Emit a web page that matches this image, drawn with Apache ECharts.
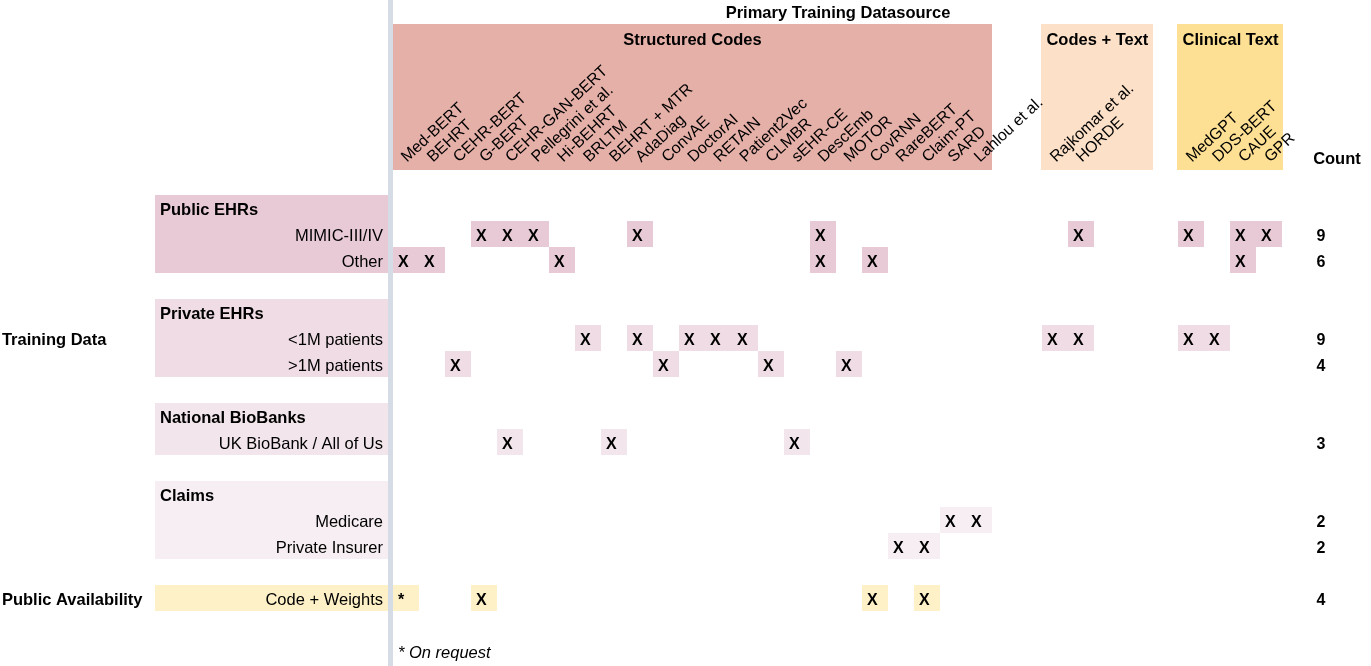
<!DOCTYPE html>
<html><head><meta charset="utf-8">
<script src="https://cdn.jsdelivr.net/npm/echarts@6/dist/echarts.min.js"></script>
<style>html,body{margin:0;padding:0;background:#fff}#c{width:1371px;height:666px}</style>
</head><body><div id="c"></div>
<script>
// ---------------- data ----------------
const chartTitle = 'Primary Training Datasource';
const sourceGroups = ['Structured Codes', 'Codes + Text', 'Clinical Text'];
const structuredModels = ['Med-BERT','BEHRT','CEHR-BERT','G-BERT','CEHR-GAN-BERT','Pellegrini et al.','Hi-BEHRT','BRLTM','BEHRT + MTR','AdaDiag','ConvAE','DoctorAI','RETAIN','Patient2Vec','CLMBR','sEHR-CE','DescEmb','MOTOR','CovRNN','RareBERT','Claim-PT','SARD','Lahlou et al.'];
const codesTextModels = ['Rajkomar et al.','HORDE'];
const clinicalTextModels = ['MedGPT','DDS-BERT','CAUE','GPR'];

const sectionTitles = ['Public EHRs','Private EHRs','National BioBanks','Claims',''];
const publicEhrRows = ['MIMIC-III/IV','Other'];
const privateEhrRows = ['<1M patients','>1M patients'];
const biobankRows = ['UK BioBank / All of Us'];
const claimsRows = ['Medicare','Private Insurer'];
const availabilityRows = ['Code + Weights'];
const categoryLabels = ['Training Data','Public Availability'];

const mimicModels = ['G-BERT','CEHR-GAN-BERT','Pellegrini et al.','AdaDiag','DescEmb','HORDE','MedGPT','CAUE','GPR'];
const otherPublicModels = ['Med-BERT','BEHRT','Hi-BEHRT','DescEmb','CovRNN','CAUE'];
const under1MModels = ['BRLTM','AdaDiag','DoctorAI','RETAIN','Patient2Vec','Rajkomar et al.','HORDE','MedGPT','DDS-BERT'];
const over1MModels = ['CEHR-BERT','ConvAE','CLMBR','MOTOR'];
const biobankModels = ['CEHR-GAN-BERT','BEHRT + MTR','sEHR-CE'];
const medicareModels = ['SARD','Lahlou et al.'];
const privateInsurerModels = ['RareBERT','Claim-PT'];
const codeWeightsModels = ['Med-BERT','G-BERT','CovRNN','Claim-PT'];
const onRequestModels = ['Med-BERT'];
const footnote = '* On request';
const countHeader = 'Count';

// ---------------- layout / style ----------------
const FONT = '"Liberation Sans", Arial, Helvetica, sans-serif';
const FS = '16.5px ';
const UNIT = 26.04;                 // px per column
const groupStart = [0, 24.92, 30.15];
const groupBoxWidth = [23, 4.26, 4.03];
const groupColors = ['#e5b0a8', '#fce1c8', '#fde093'];
const sectionColors = ['#e8cad6', '#efdce4', '#f2e5eb', '#f6eef2', '#fef1c8'];
const BOX_TOP = -6.58, BOX_BOTTOM = -0.98, GROUP_TITLE_Y = -5.96, TITLE_Y = -7.0;
const COL_LABEL_Y = -1.36, COUNT_HEAD_Y = -1.36, FOOT_Y = 17.62;
const COUNT_X = 35.64, COUNT_HEAD_X = 36.25;
const LABEL_BOX_LEFT = -9.14, CAT_LABEL_X = -15.02;
const categoryRows = [5, 15];
const ROT = 43 * Math.PI / 180;
const TXT_DY = 2.5;

const modelGroups = [structuredModels, codesTextModels, clinicalTextModels];
const colOf = {};
modelGroups.forEach((arr, g) => arr.forEach((m, i) => { colOf[m] = { x: groupStart[g] + i, g }; }));
const allModels = [].concat(structuredModels, codesTextModels, clinicalTextModels);

const sections = [
  { rows: publicEhrRows, marks: [mimicModels, otherPublicModels] },
  { rows: privateEhrRows, marks: [under1MModels, over1MModels] },
  { rows: biobankRows, marks: [biobankModels] },
  { rows: claimsRows, marks: [medicareModels, privateInsurerModels] },
  { rows: availabilityRows, marks: [codeWeightsModels] }
];

const sectionBoxes = [], rowLabelItems = [], cellItems = [], countItems = [];
let r = 0;
sections.forEach((s, si) => {
  const start = r;
  if (sectionTitles[si]) { rowLabelItems.push({ row: r, text: sectionTitles[si], bold: true }); r++; }
  s.rows.forEach((name, k) => {
    rowLabelItems.push({ row: r, text: name, bold: false });
    s.marks[k].forEach(m => {
      cellItems.push({ x: colOf[m].x, row: r, sec: si, text: onRequestModels.includes(m) && si === 4 ? '*' : 'X' });
    });
    countItems.push({ row: r, text: String(s.marks[k].length) });
    r++;
  });
  sectionBoxes.push({ start, end: r, sec: si });
  r++;
});
const totalCols = 35, totalRows = 16;

function txt(x, y, text, opt) {
  return { type: 'text', x, y, rotation: opt.rotation || 0, style: { text, fill: '#000', font: opt.font, align: opt.align || 'left', verticalAlign: opt.va || 'middle' } };
}

const chart = echarts.init(document.getElementById('c'), null, { renderer: 'canvas' });
chart.setOption({
  animation: false,
  backgroundColor: '#fff',
  grid: { left: 393, top: 195, width: totalCols * UNIT, height: totalRows * 26 },
  xAxis: { type: 'value', min: 0, max: totalCols, show: false },
  yAxis: { type: 'value', min: 0, max: totalRows, inverse: true, show: false },
  series: [
    { // header boxes
      type: 'custom', clip: false, z: 1,
      data: sourceGroups.map((g, i) => [groupStart[i], groupStart[i] + groupBoxWidth[i]]),
      renderItem(p, api) {
        const i = p.dataIndex;
        const a = api.coord([api.value(0), BOX_TOP]), b = api.coord([api.value(1), BOX_BOTTOM]);
        const t = api.coord([(api.value(0) + api.value(1)) / 2, GROUP_TITLE_Y]);
        return { type: 'group', children: [
          { type: 'rect', shape: { x: Math.round(a[0]) - 1, y: Math.round(a[1]), width: Math.round(b[0]) - Math.round(a[0]) + 1, height: Math.round(b[1]) - Math.round(a[1]) }, style: { fill: groupColors[i] } },
          txt(t[0], t[1], sourceGroups[i], { font: 'bold ' + FS + FONT, align: 'center' })
        ] };
      }
    },
    { // overall title + count header + footnote
      type: 'custom', clip: false, z: 2,
      data: [[0]],
      renderItem(p, api) {
        const mid = (groupStart[2] + groupBoxWidth[2]) / 2;
        const t = api.coord([mid, TITLE_Y]);
        const c = api.coord([COUNT_HEAD_X, COUNT_HEAD_Y]);
        const f = api.coord([0, FOOT_Y]);
        return { type: 'group', children: [
          txt(t[0], t[1], chartTitle, { font: 'bold ' + FS + FONT, align: 'center' }),
          txt(c[0], c[1], countHeader, { font: 'bold ' + FS + FONT, align: 'center' }),
          txt(f[0] + 5, f[1], footnote, { font: 'italic ' + FS + FONT })
        ] };
      }
    },
    { // column labels
      type: 'custom', clip: false, z: 3,
      data: allModels.map(m => [colOf[m].x]),
      renderItem(p, api) {
        const q = api.coord([api.value(0), COL_LABEL_Y]);
        return txt(q[0] + 11, q[1], allModels[p.dataIndex], { font: '16px ' + FONT, rotation: ROT });
      }
    },
    { // row label boxes
      type: 'custom', clip: false, z: 1,
      data: sectionBoxes.map(b => [b.start, b.end]),
      renderItem(p, api) {
        const b = sectionBoxes[p.dataIndex];
        const a = api.coord([LABEL_BOX_LEFT, b.start]), e = api.coord([0, b.end]);
        return { type: 'rect', shape: { x: Math.round(a[0]), y: Math.round(a[1]), width: Math.round(e[0]) - Math.round(a[0]), height: Math.round(e[1]) - Math.round(a[1]) }, style: { fill: sectionColors[b.sec] } };
      }
    },
    { // row label texts
      type: 'custom', clip: false, z: 3,
      data: rowLabelItems.map(o => [o.row]),
      renderItem(p, api) {
        const o = rowLabelItems[p.dataIndex];
        if (o.bold) {
          const q = api.coord([LABEL_BOX_LEFT, o.row + 0.5]);
          return txt(q[0] + 5, q[1] + TXT_DY, o.text, { font: 'bold ' + FS + FONT });
        }
        const q = api.coord([0, o.row + 0.5]);
        return txt(q[0] - 10, q[1] + TXT_DY, o.text, { font: FS + FONT, align: 'right' });
      }
    },
    { // category labels
      type: 'custom', clip: false, z: 3,
      data: categoryLabels.map((c, i) => [categoryRows[i]]),
      renderItem(p, api) {
        const q = api.coord([CAT_LABEL_X, api.value(0) + 0.5]);
        return txt(q[0], q[1] + TXT_DY, categoryLabels[p.dataIndex], { font: 'bold ' + FS + FONT });
      }
    },
    { // cells
      type: 'custom', clip: false, z: 2,
      data: cellItems.map(o => [o.x, o.row]),
      renderItem(p, api) {
        const o = cellItems[p.dataIndex];
        const a = api.coord([o.x, o.row]), b = api.coord([o.x + 1, o.row + 1]);
        const x0 = Math.round(a[0]), y0 = Math.round(a[1]);
        return { type: 'group', children: [
          { type: 'rect', shape: { x: x0, y: y0, width: Math.round(b[0]) - x0, height: Math.round(b[1]) - y0 }, style: { fill: sectionColors[o.sec] } },
          txt(x0 + 5, (a[1] + b[1]) / 2 + TXT_DY, o.text, { font: 'bold 16px ' + FONT })
        ] };
      }
    },
    { // counts
      type: 'custom', clip: false, z: 3,
      data: countItems.map(o => [COUNT_X, o.row]),
      renderItem(p, api) {
        const q = api.coord([api.value(0), api.value(1) + 0.5]);
        return txt(q[0], q[1] + TXT_DY, countItems[p.dataIndex].text, { font: 'bold 16px ' + FONT, align: 'center' });
      }
    },
    { // vertical divider
      type: 'custom', clip: false, z: 5,
      data: [[0]],
      renderItem(p, api) {
        const q = api.coord([0, 0]);
        return { type: 'rect', shape: { x: Math.round(q[0]) - 5, y: 0, width: 5, height: api.getHeight() }, style: { fill: '#d5dce6' } };
      }
    }
  ]
});
</script></body></html>
